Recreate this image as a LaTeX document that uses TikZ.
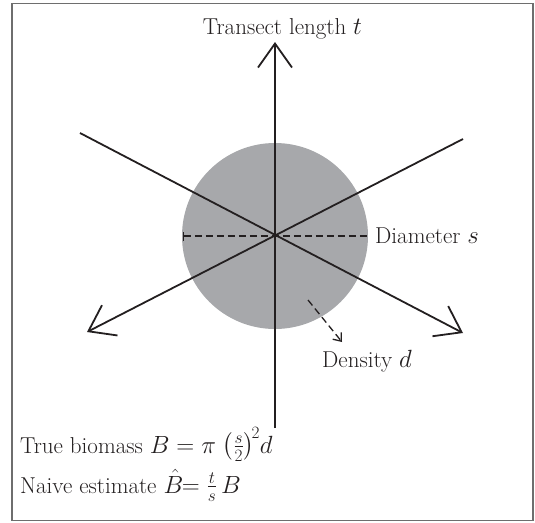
\documentclass[tikz,border=0pt]{standalone}
\usepackage{amssymb,amsmath}
\usepackage{tikz}
\usetikzlibrary{arrows.meta}
\definecolor{disc}{HTML}{A7A8AB}
\definecolor{frame}{HTML}{6E6E6E}
\definecolor{ink}{HTML}{231F20}

\begin{document}
\begin{tikzpicture}[x=1pt, y=-1pt, font=\fontsize{23}{27}\selectfont,
    transect/.style={line width=1.8pt, ink, -{Straight Barb[length=24pt, width=34pt]}},
    label/.style={inner sep=0pt, ink}]
  \useasboundingbox (0,0) rectangle (535,522);
  % ---- frame ----
  \draw[line width=1.5pt, frame] (12,3.5) rectangle (533,520.5);
  % ---- disc ----
  \coordinate (o) at (275,236);
  \fill[disc] (o) circle[radius=93];
  % ---- transects ----
  \coordinate (top) at (275,42);
  \coordinate (bot) at (275,428);
  \coordinate (ul) at (80,133);
  \coordinate (lr) at (463,333);
  \coordinate (ur) at (463,139);
  \coordinate (ll) at (87,332);
  \draw[transect] (bot) -- (top);
  \draw[transect] (ul) -- (lr);
  \draw[transect] (ur) -- (ll);
  \node[label, anchor=base] (tlab) at (282.5,34) {Transect length $t$};
  % ---- diameter ----
  \coordinate (dl) at (183,236);
  \coordinate (dr) at (368,236);
  \draw[line width=1.3pt, ink, dash pattern=on 7pt off 4pt, {Bar[width=9pt]}-] (dl) -- (dr);
  \node[label, anchor=base west] (slab) at (375,243) {Diameter $s$};
  % ---- density ----
  \coordinate (ds) at (308,300);
  \coordinate (de) at (342,342);
  \draw[line width=1.3pt, ink, dash pattern=on 7pt off 4pt,
    -{Straight Barb[length=7pt, width=11pt]}] (ds) -- (de);
  \node[label, anchor=base west] (dlab) at (322,367) {Density $d$};
  % ---- formulas ----
  \node[label, anchor=base west] (true) at (20,453)
    {True biomass $B = \pi\ \bigl(\frac{s}{2}\bigr)^{\!2} d$};
  \node[label, anchor=base west] (naive) at (20,493)
    {Naive estimate $\hat{B}\!\!= \frac{t}{s}\,B$};
\end{tikzpicture}
\end{document}
